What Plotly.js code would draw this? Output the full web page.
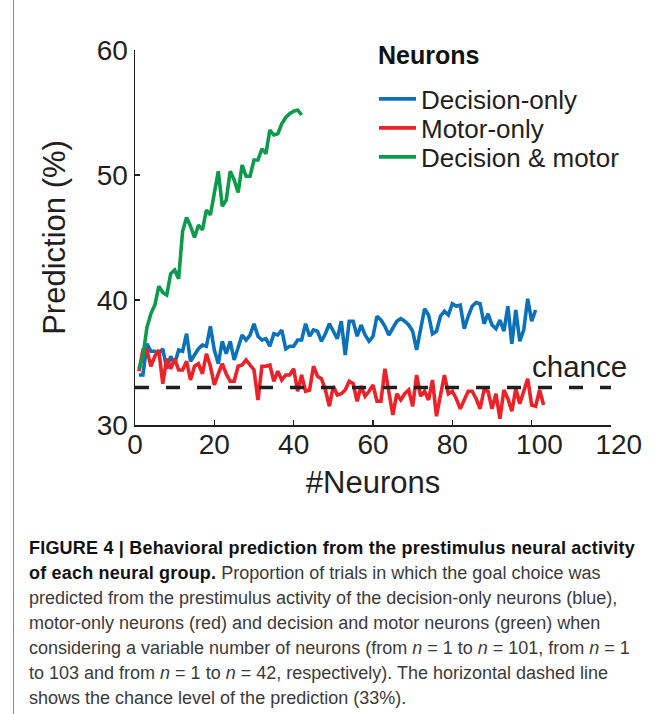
<!DOCTYPE html>
<html>
<head>
<meta charset="utf-8">
<script src="https://cdn.plot.ly/plotly-3.0.1.min.js"></script>
<style>
  html, body { margin: 0; padding: 0; background: #fff; }
  #wrap { position: relative; width: 671px; height: 714px; overflow: hidden; }
  #chart { position: absolute; left: 0; top: 0; width: 671px; height: 714px; }
  #frame { position: absolute; left: 13px; top: 0; width: 0; height: 714px; border-left: 1.5px solid #8a8a8a; }
  #caption { position: absolute; left: 29px; top: 536px; font-family: "Liberation Sans", Arial, sans-serif;
             font-size: 18px; line-height: 25px; color: #3a3a3a; white-space: nowrap; }
  #caption b { color: #111; letter-spacing: 0.2px; }
</style>
</head>
<body>
<div id="wrap">
  <div id="chart"></div>
  <div id="frame"></div>
  <div id="caption">
    <b>FIGURE 4 | Behavioral prediction from the prestimulus neural activity</b><br>
    <b>of each neural group.</b> Proportion of trials in which the goal choice was<br>
    predicted from the prestimulus activity of the decision-only neurons (blue),<br>
    motor-only neurons (red) and decision and motor neurons (green) when<br>
    considering a variable number of neurons (from <i>n</i> = 1 to <i>n</i> = 101, from <i>n</i> = 1<br>
    to 103 and from <i>n</i> = 1 to <i>n</i> = 42, respectively). The horizontal dashed line<br>
    shows the chance level of the prediction (33%).
  </div>
</div>
<script>
// Prediction (%) versus number of neurons
const decisionOnly = [34.0,34.0,36.5,35.9,35.9,35.7,36.1,34.5,35.5,34.9,
  36.0,35.9,37.3,35.1,35.6,36.1,36.4,36.3,37.9,36.0,
  34.9,36.7,35.7,36.7,35.2,36.1,37.2,36.8,37.2,38.1,
  37.1,36.8,36.9,36.3,37.3,37.2,37.6,36.1,36.3,36.3,
  36.8,36.8,38.1,37.1,37.6,37.5,36.7,37.3,38.1,37.5,
  36.9,38.3,35.6,38.3,38.3,37.1,38.0,37.2,36.7,37.1,
  38.7,38.4,37.9,37.2,37.7,38.3,38.5,38.3,38.0,37.5,
  36.0,37.5,39.3,38.8,37.3,37.5,38.7,39.1,38.8,39.7,
  39.5,39.6,37.7,38.7,39.5,39.8,39.7,38.1,38.9,38.0,
  37.7,38.4,37.5,39.5,36.5,39.2,36.7,37.6,40.1,38.3,
  39.2];
const motorOnly = [34.3,36.0,36.0,34.7,35.5,36.0,33.3,35.3,34.5,35.3,
  34.4,34.4,35.1,33.6,34.7,34.9,34.1,35.7,34.7,33.2,
  34.1,34.9,34.1,33.5,33.5,34.7,34.8,35.2,34.8,34.4,
  32.0,34.7,34.7,34.8,33.5,34.3,33.6,34.0,34.0,34.5,
  32.7,34.0,32.7,32.8,34.7,33.9,33.7,32.8,31.5,33.1,
  32.4,32.5,32.8,33.5,33.3,31.9,33.1,32.3,32.7,33.2,
  31.9,31.9,34.5,32.8,30.8,32.5,32.0,32.5,32.8,31.5,
  34.0,32.3,32.7,32.0,33.6,30.7,32.4,34.0,32.5,32.7,
  32.1,31.3,32.0,32.7,32.7,32.1,31.3,32.8,32.7,31.3,
  32.5,30.5,32.8,32.1,31.1,32.9,31.7,32.8,33.7,31.6,
  31.5,32.8,31.6];
const decisionMotor = [34.5,35.5,37.8,38.9,39.6,41.1,40.6,40.4,42.1,42.4,
  41.7,45.5,46.6,45.9,45.0,46.0,45.6,47.2,46.8,48.4,
  50.3,47.5,48.0,50.3,49.6,48.6,50.8,49.9,49.9,51.2,
  51.2,52.1,51.7,53.6,53.2,53.3,54.1,54.6,54.9,55.1,
  55.2,54.8];
const chanceX = [0, 120];
const chanceY = [33, 33];
const seriesNames = ['Decision-only', 'Motor-only', 'Decision & motor'];
const legendTitle = 'Neurons';
const xTicks = [0, 20, 40, 60, 80, 100, 120];
const yTicks = [30, 40, 50, 60];

const idx = arr => arr.map((_, i) => i + 1);
const FONT = 'Liberation Sans, Arial, Helvetica, sans-serif';
const INK = '#231f20';
const NB = '\u00a0';

const traces = [
  {x: idx(decisionOnly), y: decisionOnly, name: seriesNames[0], type: 'scatter', mode: 'lines',
   legend: 'legend', line: {color: '#0b72b9', width: 3.6}},
  {x: idx(motorOnly), y: motorOnly, name: seriesNames[1], type: 'scatter', mode: 'lines',
   legend: 'legend2', line: {color: '#ec2228', width: 3.6}},
  {x: idx(decisionMotor), y: decisionMotor, name: seriesNames[2], type: 'scatter', mode: 'lines',
   legend: 'legend3', line: {color: '#0c9b4a', width: 3.6}},
  {x: chanceX, y: chanceY, name: 'chance', type: 'scatter', mode: 'lines', showlegend: false,
   line: {color: INK, width: 3.6, dash: '14px,17px'}}
];

function legendAt(yPaper) {
  return {
    x: 0.5021, xanchor: 'left', y: yPaper, yanchor: 'middle',
    bgcolor: 'rgba(0,0,0,0)', borderwidth: 0, itemwidth: 37,
    font: {size: 26, family: FONT, color: INK}
  };
}

const layout = {
  width: 671, height: 714,
  margin: {l: 135, r: 60, t: 50, b: 289},
  paper_bgcolor: 'rgba(0,0,0,0)', plot_bgcolor: '#fff',
  font: {family: FONT, color: INK},
  showlegend: true,
  xaxis: {
    range: [0, 120], tickvals: xTicks,
    ticktext: xTicks.map(v => v >= 100 ? NB + NB + String(v) : String(v)),
    showgrid: false, zeroline: false, showline: true, linecolor: INK, linewidth: 1.5,
    ticks: 'inside', ticklen: 5, tickwidth: 1.5, tickcolor: INK,
    ticklabelstandoff: -6,
    tickfont: {size: 28, family: FONT, color: INK},
    title: {text: '#Neurons', font: {size: 31, family: FONT, color: INK}, standoff: 12},
    automargin: false
  },
  yaxis: {
    range: [30, 60], tickvals: yTicks, ticktext: yTicks.map(String),
    showgrid: false, zeroline: false, showline: true, linecolor: INK, linewidth: 1.5,
    ticks: 'inside', ticklen: 5, tickwidth: 1.5, tickcolor: INK,
    tickfont: {size: 28, family: FONT, color: INK},
    title: {text: 'Prediction (%)', font: {size: 31, family: FONT, color: INK}, standoff: 22},
    automargin: false
  },
  legend: legendAt(0.8693),
  legend2: legendAt(0.792),
  legend3: legendAt(0.7147),
  annotations: [
    {x: 0.5063, y: 0.9867, xref: 'paper', yref: 'paper', xanchor: 'left', yanchor: 'middle',
     text: '<b>' + legendTitle + '</b>', showarrow: false, font: {size: 25, family: FONT, color: '#111'}},
    {x: 112, y: 33.2, xref: 'x', yref: 'y', xanchor: 'center', yanchor: 'bottom',
     text: 'chance', showarrow: false, font: {size: 29.5, family: FONT, color: INK}}
  ]
};

Plotly.newPlot('chart', traces, layout, {staticPlot: true, displayModeBar: false});
</script>
</body>
</html>
